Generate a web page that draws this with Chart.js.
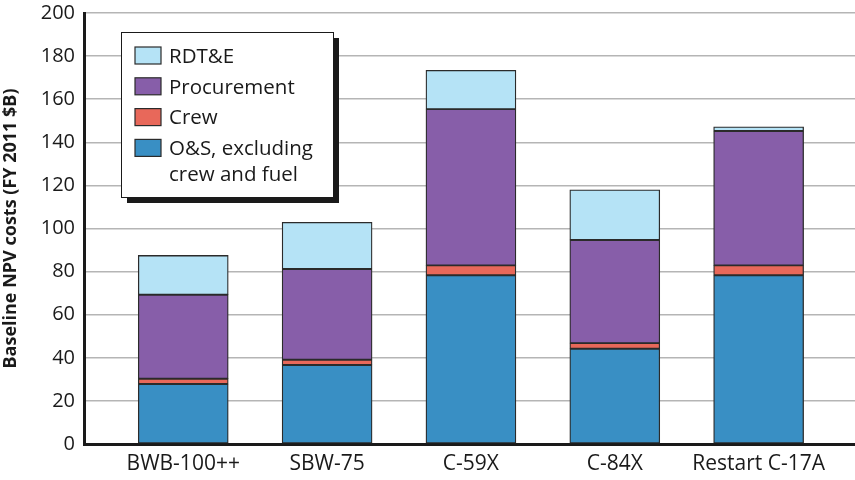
<!DOCTYPE html>
<html>
<head>
<meta charset="utf-8">
<script src="https://cdn.jsdelivr.net/npm/chart.js@4/dist/chart.umd.min.js"></script>
<style>
    html, body { margin: 0; padding: 0; background: #fff; }
    #wrap { width: 855px; height: 480px; }
</style>
</head>
<body>
<div id="wrap"><canvas id="myChart" width="855" height="480"></canvas></div>
<script>
const categories = ['BWB-100++', 'SBW-75', 'C-59X', 'C-84X', 'Restart C-17A']
const osValues = [27.8, 36.7, 78.3, 44.2, 78.3]
const crewValues = [2.5, 2.4, 4.6, 2.6, 4.6]
const procValues = [39.0, 42.1, 72.5, 47.9, 62.3]
const rdteValues = [18.2, 21.7, 18.0, 23.3, 2.0]
const yTicks = [0, 20, 40, 60, 80, 100, 120, 140, 160, 180, 200]

const FONT = "'Open Sans', 'Noto Sans', sans-serif"

function toPoints(values) {
    return values.map((v, i) => ({ x: i, y: v }))
}

function makeSet(label, values, color) {
    return {
        label: label,
        data: toPoints(values),
        backgroundColor: color,
        borderColor: '#2b2b2b',
        borderWidth: 1.3,
        borderSkipped: false,
        barThickness: 90
    }
}

// legend box with drop shadow, drawn by hand (top entry first)
const boxLegend = {
    id: 'boxLegend',
    afterDraw(chart) {
        const ctx = chart.ctx
        const x = 121, y = 32, w = 212, h = 165
        ctx.save()
        ctx.fillStyle = '#1a1a1a'
        ctx.fillRect(x + 6, y + 6, w, h)
        ctx.fillStyle = '#fff'
        ctx.fillRect(x, y, w, h)
        ctx.strokeStyle = '#1a1a1a'
        ctx.lineWidth = 1
        ctx.strokeRect(x + 0.5, y + 0.5, w, h)

        const sets = chart.data.datasets.slice().reverse()
        ctx.font = '20.5px ' + FONT
        ctx.textBaseline = 'middle'
        sets.forEach((ds, i) => {
            const ry = 56 + i * 30.8
            ctx.fillStyle = ds.backgroundColor
            ctx.fillRect(135, ry - 9, 26, 17)
            ctx.strokeStyle = '#2b2b2b'
            ctx.lineWidth = 1.2
            ctx.strokeRect(135, ry - 9, 26, 17)
            ctx.fillStyle = '#1a1a1a'
            const lines = Array.isArray(ds.label) ? ds.label : [ds.label]
            lines.forEach((t, j) => ctx.fillText(t, 169, ry + 1 + j * 26))
        })
        ctx.restore()
    }
}

const cfg = {
    type: 'bar',
    data: {
        datasets: [
            makeSet(['O&S, excluding', 'crew and fuel'], osValues, '#398fc4'),
            makeSet('Crew', crewValues, '#e8685a'),
            makeSet('Procurement', procValues, '#875ea9'),
            makeSet('RDT&E', rdteValues, '#b5e3f6')
        ]
    },
    options: {
        responsive: false,
        animation: false,
        layout: { padding: { top: 13, right: 0, left: 0, bottom: 0 } },
        scales: {
            x: {
                type: 'linear',
                stacked: true,
                offset: false,
                min: -0.69,
                max: 4.67,
                afterFit: (scale) => { scale.height = 36 },
                afterBuildTicks: (scale) => {
                    scale.ticks = categories.map((c, i) => ({ value: i }))
                },
                ticks: {
                    color: '#1a1a1a',
                    font: { family: FONT, size: 21 },
                    padding: 7,
                    maxRotation: 0,
                    autoSkip: false,
                    callback: (v) => categories[v]
                },
                grid: { display: false, drawTicks: false },
                border: { display: true, color: '#1a1a1a', width: 3 }
            },
            y: {
                stacked: true,
                min: 0,
                max: 200,
                afterFit: (scale) => {
                    scale.width = 84
                    scale.paddingTop = 0
                    scale.paddingBottom = 0
                },
                afterBuildTicks: (scale) => {
                    scale.ticks = yTicks.map(v => ({ value: v }))
                },
                ticks: {
                    color: '#1a1a1a',
                    font: { family: FONT, size: 20 },
                    padding: 9
                },
                grid: {
                    color: '#b5b5b5',
                    lineWidth: 1.5,
                    drawTicks: false
                },
                border: { display: true, color: '#1a1a1a', width: 3 },
                title: {
                    display: true,
                    text: 'Baseline NPV costs (FY 2011 $B)',
                    color: '#1a1a1a',
                    font: { family: FONT, size: 18, weight: 'bold' },
                    padding: { top: 0, bottom: 2 }
                }
            }
        },
        plugins: {
            legend: { display: false },
            tooltip: { enabled: false }
        }
    },
    plugins: [boxLegend]
}

const ctx = document.getElementById('myChart').getContext('2d')
const myChart = new Chart(ctx, cfg)
</script>
</body>
</html>
